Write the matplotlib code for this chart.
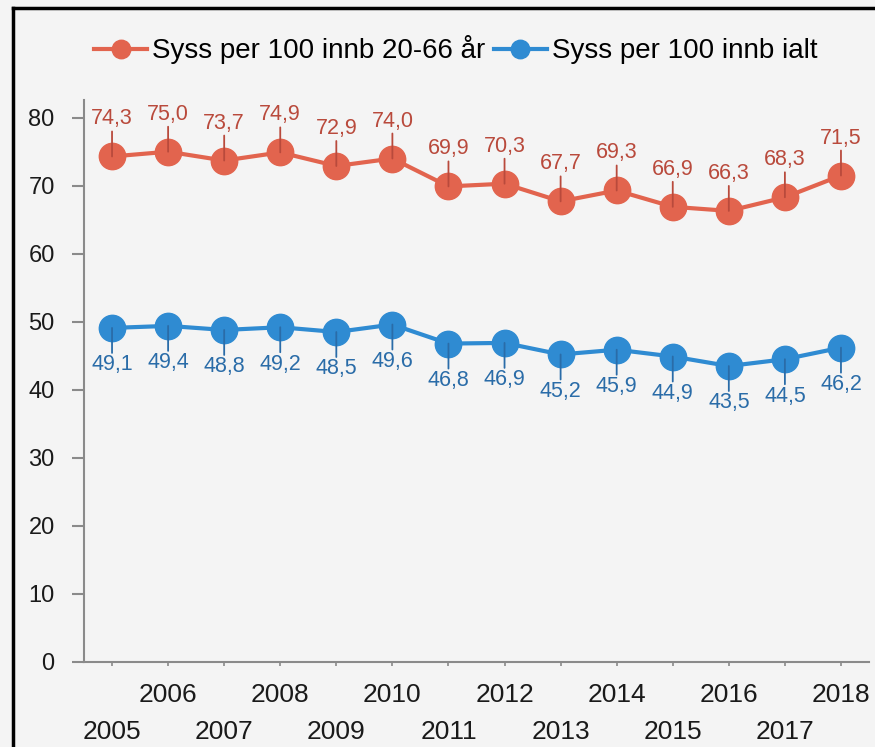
import matplotlib
matplotlib.use('Agg')
import matplotlib.pyplot as plt
from matplotlib.lines import Line2D

years = list(range(2005, 2019))
syss_20_66 = [74.3, 75.0, 73.7, 74.9, 72.9, 74.0, 69.9, 70.3, 67.7, 69.3, 66.9, 66.3, 68.3, 71.5]
syss_ialt = [49.1, 49.4, 48.8, 49.2, 48.5, 49.6, 46.8, 46.9, 45.2, 45.9, 44.9, 43.5, 44.5, 46.2]
y_ticks = [0, 10, 20, 30, 40, 50, 60, 70, 80]
series_names = ['Syss per 100 innb 20-66 år', 'Syss per 100 innb ialt']

bg = '#f4f4f4'
red, red_txt = '#e2644e', '#b94a3c'
blue, blue_txt = '#2f8bd2', '#2a6ca8'
axis_col = '#8a8a8a'

plt.rcParams['font.family'] = ['Liberation Sans', 'DejaVu Sans']

fig = plt.figure(figsize=(8.75, 7.47), dpi=100, facecolor=bg)
ax = fig.add_axes([84 / 875, 1 - 662 / 747, (869 - 84) / 875, (662 - 100) / 747])
ax.set_facecolor(bg)

ax.plot(years, syss_20_66, color=red, lw=3, marker='o', ms=19, mec=red, label=series_names[0])
ax.plot(years, syss_ialt, color=blue, lw=3, marker='o', ms=19, mec=blue, label=series_names[1])


def fmt(v):
    return f'{v:.1f}'.replace('.', ',')


# dataetiketter med små streker
for x, v in zip(years, syss_20_66):
    ax.annotate('', xy=(x, v), xytext=(0, 18), textcoords='offset points',
                arrowprops=dict(arrowstyle='-', color=red_txt, lw=1.3, shrinkA=0, shrinkB=0))
    ax.annotate(fmt(v), xy=(x, v), xytext=(0, 27), textcoords='offset points',
                ha='center', va='center', fontsize=15.5, color=red_txt)
for x, v in zip(years, syss_ialt):
    ax.annotate('', xy=(x, v), xytext=(0, -18), textcoords='offset points',
                arrowprops=dict(arrowstyle='-', color=blue_txt, lw=1.3, shrinkA=0, shrinkB=0))
    ax.annotate(fmt(v), xy=(x, v), xytext=(0, -26.5), textcoords='offset points',
                ha='center', va='center', fontsize=15.5, color=blue_txt)

ax.set_xlim(2004.5, 2018.5)
ax.set_ylim(0, 82.6)
ax.set_yticks(y_ticks)
ax.tick_params(axis='y', length=8.6, width=1.5, color=axis_col, pad=12.5, labelsize=17, labelcolor='#1a1a1a')

even = [y for y in years if y % 2 == 0]
odd = [y for y in years if y % 2 == 1]
ax.set_xticks(even)
ax.set_xticklabels([str(y) for y in even])
ax.set_xticks(odd, minor=True)
ax.set_xticklabels([str(y) for y in odd], minor=True)
ax.tick_params(axis='x', which='major', length=3, width=1.2, color=axis_col, pad=12,
               labelsize=19, labelcolor='#1a1a1a')
ax.tick_params(axis='x', which='minor', length=3, width=1.2, color=axis_col, pad=38.5,
               labelsize=19, labelcolor='#1a1a1a')

for s in ['top', 'right']:
    ax.spines[s].set_visible(False)
for s in ['left', 'bottom']:
    ax.spines[s].set_color(axis_col)
    ax.spines[s].set_linewidth(1.5)

fig.legend(loc='center', bbox_to_anchor=(456 / 875, 1 - 50 / 747), ncol=2, frameon=False,
           fontsize=20, markerscale=0.7, handlelength=1.9, handletextpad=0.2,
           columnspacing=0.3)

# svart ramme oppe og til venstre
fig.add_artist(Line2D([13 / 875, 1], [1 - 8 / 747, 1 - 8 / 747], color='black', lw=2.5,
                      transform=fig.transFigure))
fig.add_artist(Line2D([13 / 875, 13 / 875], [0, 1 - 8 / 747], color='black', lw=2.5,
                      transform=fig.transFigure))

fig.savefig('out.png', dpi=100, facecolor=bg)
